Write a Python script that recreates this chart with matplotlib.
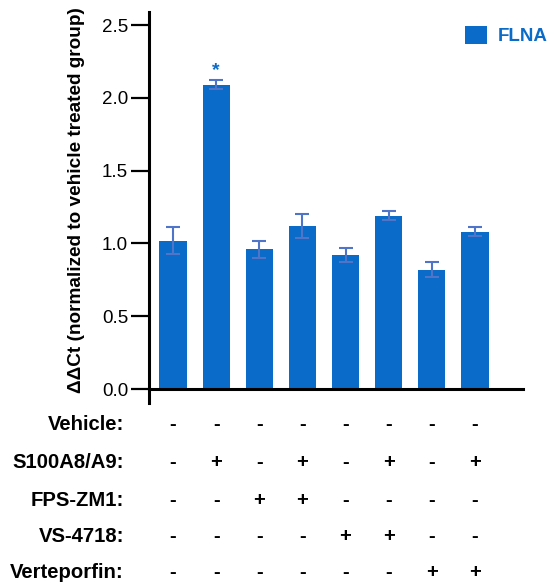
import numpy as np
import matplotlib
matplotlib.use('Agg')
import matplotlib.pyplot as plt
from matplotlib.transforms import blended_transform_factory

plt.rcParams['font.family'] = ['Liberation Sans', 'DejaVu Sans']

# data
values = [1.02, 2.09, 0.96, 1.12, 0.92, 1.19, 0.82, 1.08]
errors = [0.09, 0.03, 0.06, 0.08, 0.05, 0.03, 0.05, 0.03]
sig_marks = ['', '*', '', '', '', '', '', '']
series_name = 'FLNA'
row_labels = ['Vehicle:', 'S100A8/A9:', 'FPS-ZM1:', 'VS-4718:', 'Verteporfin:']
treatments = [
    ['-', '-', '-', '-', '-', '-', '-', '-'],
    ['-', '+', '-', '+', '-', '+', '-', '+'],
    ['-', '-', '+', '+', '-', '-', '-', '-'],
    ['-', '-', '-', '-', '+', '+', '-', '-'],
    ['-', '-', '-', '-', '-', '-', '+', '+'],
]
yticks = [0.0, 0.5, 1.0, 1.5, 2.0, 2.5]

bar_color = '#0B6BC8'
err_color = '#5075C8'

W, H = 554, 583
fig = plt.figure(figsize=(W / 100, H / 100), dpi=100)
ax = fig.add_axes([149 / W, 1 - 403 / H, (523 - 149) / W, (403 - 12) / H])

x = np.arange(len(values))
ax.bar(x, values, width=0.63, color=bar_color, label=series_name, zorder=2)
ax.errorbar(x, values, yerr=errors, fmt='none', ecolor=err_color,
            elinewidth=1.5, capsize=4.7, capthick=1.5, zorder=3)

for i, m in enumerate(sig_marks):
    if m:
        ax.text(x[i], values[i] + errors[i] + 0.01, m, ha='center', va='bottom',
                color=bar_color, fontsize=14, fontweight='bold')

ax.set_xlim(-0.557, 8.114)
ax.set_ylim(-0.096, 2.59)
ax.set_yticks(yticks)
ax.set_yticklabels(['%.1f' % t for t in yticks], fontsize=13.5)
ax.set_xticks([])
ax.spines['top'].set_visible(False)
ax.spines['right'].set_visible(False)
ax.spines['bottom'].set_position(('data', 0))
for s in ['left', 'bottom']:
    ax.spines[s].set_linewidth(2.2)
ax.tick_params(axis='y', length=13, width=1.6, pad=2)
ax.set_ylabel('ΔΔCt (normalized to vehicle treated group)', fontsize=13.7,
              fontweight='bold')
ax.yaxis.set_label_coords(-0.171, 0.52)

leg = ax.legend(loc='upper left', bbox_to_anchor=(465 / W, 1 - 26 / H),
                bbox_transform=fig.transFigure, frameon=False,
                prop={'weight': 'bold', 'size': 13.5}, labelcolor=bar_color,
                handlelength=1.17, handleheight=1.07, handletextpad=0.6,
                borderpad=0, borderaxespad=0)

# treatment table under the chart
tr = blended_transform_factory(ax.transData, fig.transFigure)
row_y = [425, 462, 500, 537, 573]
for r, lab in enumerate(row_labels):
    yf = 1 - row_y[r] / H
    fig.text(124 / W, yf, lab, ha='right', va='center', fontsize=14.6,
             fontweight='bold')
    for i, sym in enumerate(treatments[r]):
        ax.text(x[i], yf, sym, transform=tr, ha='center', va='center',
                fontsize=14.6, fontweight='bold', clip_on=False)

fig.savefig('out.png', dpi=100)
